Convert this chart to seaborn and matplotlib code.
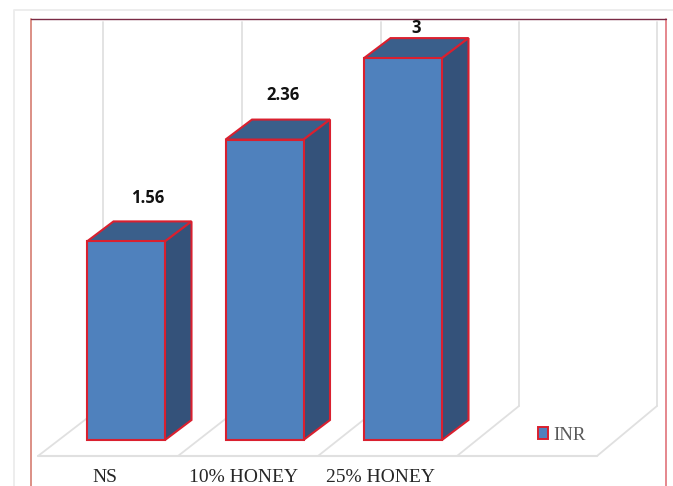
import matplotlib
matplotlib.use("Agg")
import matplotlib.pyplot as plt
import matplotlib.transforms as mtrans
from matplotlib.patches import Patch
import seaborn as sns
import pandas as pd

categories = ["NS", "10% HONEY", "25% HONEY"]
inr_values = [1.56, 2.36, 3]
value_labels = ["1.56", "2.36", "3"]
series_name = "INR"

sns.set_theme(style="white")
W, H = 673, 486
fig = plt.figure(figsize=(W / 100, H / 100), dpi=100, facecolor="white")

# chrome layer in pixel coordinates
bg = fig.add_axes([0, 0, 1, 1], zorder=0)
bg.set_xlim(0, W)
bg.set_ylim(H, 0)
bg.axis("off")
GREY = "#e0e0e0"
bg.plot([14, 14, W], [H, 10, 10], color="#ececec", lw=1.3)
bg.plot([31, 31], [19, H], color="#dc8f85", lw=1.4)
bg.plot([666, 666], [19, H], color="#e0737a", lw=1.2)
bg.plot([31, 666], [19, 19], color="#7a2a45", lw=1.0)
backs = [103, 242, 381, 519, 657]
fronts = [38, 178, 318, 457, 597]
for b, f in zip(backs, fronts):
    bg.plot([b, b], [22, 406], color=GREY, lw=1.3)
    bg.plot([f, b], [456, 406], color=GREY, lw=1.3)
bg.plot([38, 597], [456, 456], color=GREY, lw=1.5)

# chart layer: y=0 sits on the floor of the bars
PX_X, PX_Y = 138.5, 127.3
ax = fig.add_axes([0, 46 / H, 1, 430 / H], zorder=1)
ax.patch.set_alpha(0)
df = pd.DataFrame({"group": categories, "INR": inr_values})
FRONT, TOP, SIDE, EDGE = "#4f81bd", "#3a5f8b", "#34527a", "#d9202f"
LW = 1.5
sns.barplot(data=df, x="group", y="INR", color=FRONT, saturation=1, width=78 / PX_X,
            edgecolor=EDGE, linewidth=LW, ax=ax, zorder=3)
ax.set_xlim(-126 / PX_X, (W - 126) / PX_X)
ax.set_ylim(0, 430 / PX_Y)
ax.set_xlabel("")
ax.set_ylabel("")
ax.set_yticks([])
sns.despine(ax=ax, left=True, bottom=True)
for bar in ax.patches:
    bar.set_clip_on(False)

dx, dy = 26.5 / PX_X, 20 / PX_Y
for bar in ax.patches:
    x0, w, h = bar.get_x(), bar.get_width(), bar.get_height()
    x1 = x0 + w
    ax.fill([x0, x0 + dx, x1 + dx, x1], [h, h + dy, h + dy, h], facecolor=TOP,
            edgecolor=EDGE, lw=LW, zorder=2, clip_on=False)
    ax.fill([x1, x1 + dx, x1 + dx, x1], [0, dy, h + dy, h], facecolor=SIDE,
            edgecolor=EDGE, lw=LW, zorder=2, clip_on=False)

# value labels
label_offsets = [(22, 43), (19, 45), (13, 30)]
for bar, text, (ox, oy) in zip(ax.patches, value_labels, label_offsets):
    ax.annotate(text, xy=(bar.get_x() + bar.get_width() / 2, bar.get_height()),
                xytext=(ox, oy), textcoords="offset pixels", ha="center", va="center",
                fontsize=12, fontweight="bold", family="Open Sans", color="#111111",
                annotation_clip=False, zorder=5)

# category labels
ax.set_xticks(range(len(categories)), categories)
ax.tick_params(axis="x", length=0, pad=21)
shifts = [-21, -20.5, -23]
for lab, s in zip(ax.get_xticklabels(), shifts):
    lab.set_family("Liberation Serif")
    lab.set_fontsize(14)
    lab.set_color("#262626")
    lab.set_transform(lab.get_transform() + mtrans.ScaledTranslation(s / 100, 0, fig.dpi_scale_trans))

# legend
handle = Patch(facecolor=FRONT, edgecolor=EDGE, linewidth=1.4)
leg = ax.legend([handle], [series_name], loc="center left", frameon=False,
                bbox_to_anchor=(538 / W, (486 - 435) / H), bbox_transform=fig.transFigure,
                prop={"family": "Liberation Serif", "size": 13.5}, labelcolor="#595959",
                handlelength=0.55, handleheight=0.6, handletextpad=0.25, borderpad=0, borderaxespad=0)

fig.savefig("out.png", dpi=100)
